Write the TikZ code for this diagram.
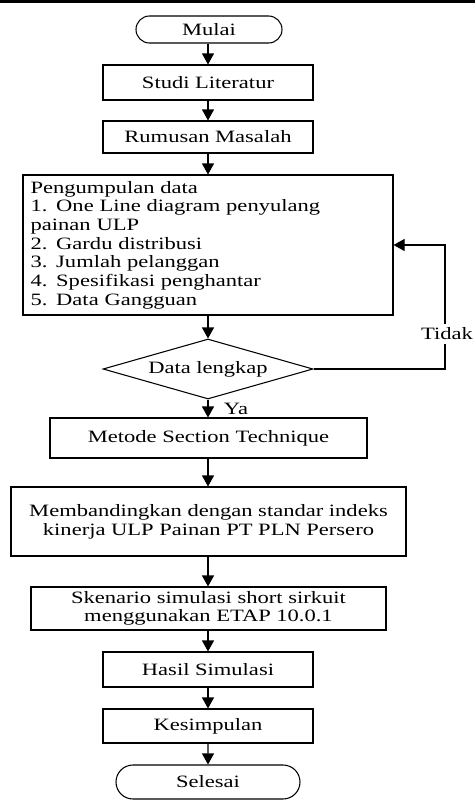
\documentclass[tikz,border=0pt]{standalone}
\usepackage{fontspec}
\setmainfont{Liberation Serif}[FakeStretch=1.3]
\usetikzlibrary{shapes.geometric,shapes.misc,arrows.meta}
\begin{document}
\begin{tikzpicture}[x=0.75pt,y=-0.75pt,
  txt/.style={font=\fontsize{13}{14}\selectfont},
  box/.style={txt, draw, line width=0.8pt, rectangle, inner sep=0pt, align=center},
  term/.style={txt, draw, line width=0.8pt, rounded rectangle, inner sep=0pt},
  dec/.style={txt, draw, line width=0.8pt, diamond, aspect=3.5, inner sep=0pt},
  arr/.style={line width=0.8pt, -{Triangle[length=8.25pt,width=9pt]}},
  lbl/.style={txt, inner sep=1pt}]
\useasboundingbox (0,0) rectangle (475,800);
\fill (0,0) rectangle (475,2.5);

\node[term, minimum width=109.5pt, minimum height=20.25pt] (mulai) at (209,29.5) {Mulai};
\node[box, minimum width=157.5pt, minimum height=26.25pt] (studi) at (208,82.5) {Studi Literatur};
\node[box, minimum width=157.5pt, minimum height=24pt] (rumus) at (208,137) {Rumusan Masalah};
\node[box, minimum width=277.5pt, minimum height=105pt, text width=266pt, inner xsep=5.25pt, align=left] (peng) at (208,245)
  {Pengumpulan data\\1. One Line diagram penyulang\\painan ULP\\2. Gardu distribusi\\3. Jumlah pelanggan\\4. Spesifikasi penghantar\\5. Data Gangguan};
\node[dec, minimum width=157.5pt, minimum height=45pt] (cek) at (208,369) {Data lengkap};
\node[box, minimum width=237.75pt, minimum height=30pt] (metode) at (208.5,438) {Metode Section Technique};
\node[box, minimum width=296.25pt, minimum height=51.75pt] (banding) at (208.5,521.5) {Membandingkan dengan standar indeks\\kinerja ULP Painan PT PLN Persero};
\node[box, minimum width=266.25pt, minimum height=32.25pt] (sken) at (208.5,608.5) {Skenario simulasi short sirkuit\\menggunakan ETAP 10.0.1};
\node[box, minimum width=157.5pt, minimum height=26.25pt] (hasil) at (208,669.5) {Hasil Simulasi};
\node[box, minimum width=157.5pt, minimum height=25.5pt] (kesim) at (208,726) {Kesimpulan};
\node[term, minimum width=138pt, minimum height=25.5pt] (selesai) at (208,782) {Selesai};

\draw[arr] (mulai.south -| studi.north) -- (studi.north);
\draw[arr] (studi) -- (rumus);
\draw[arr] (rumus) -- (peng);
\draw[arr] (peng) -- (cek);
\draw[arr] (cek.south) -- (cek.south |- metode.north);
\draw[arr] (metode.south -| cek.south) -- (cek.south |- banding.north);
\draw[arr] (banding.south -| cek.south) -- (cek.south |- sken.north);
\draw[arr] (sken.south -| cek.south) -- (cek.south |- hasil.north);
\draw[arr] (hasil) -- (kesim);
\draw[arr] (kesim) -- (selesai);

\coordinate (loop) at (445,369);
\draw[arr] (cek.east) -- (loop) |- (peng.east);
\node[lbl, fill=white, inner ysep=3pt] (tidak) at (447,334) {Tidak};
\node[lbl] (ya) at (236,409) {Ya};
\end{tikzpicture}
\end{document}
